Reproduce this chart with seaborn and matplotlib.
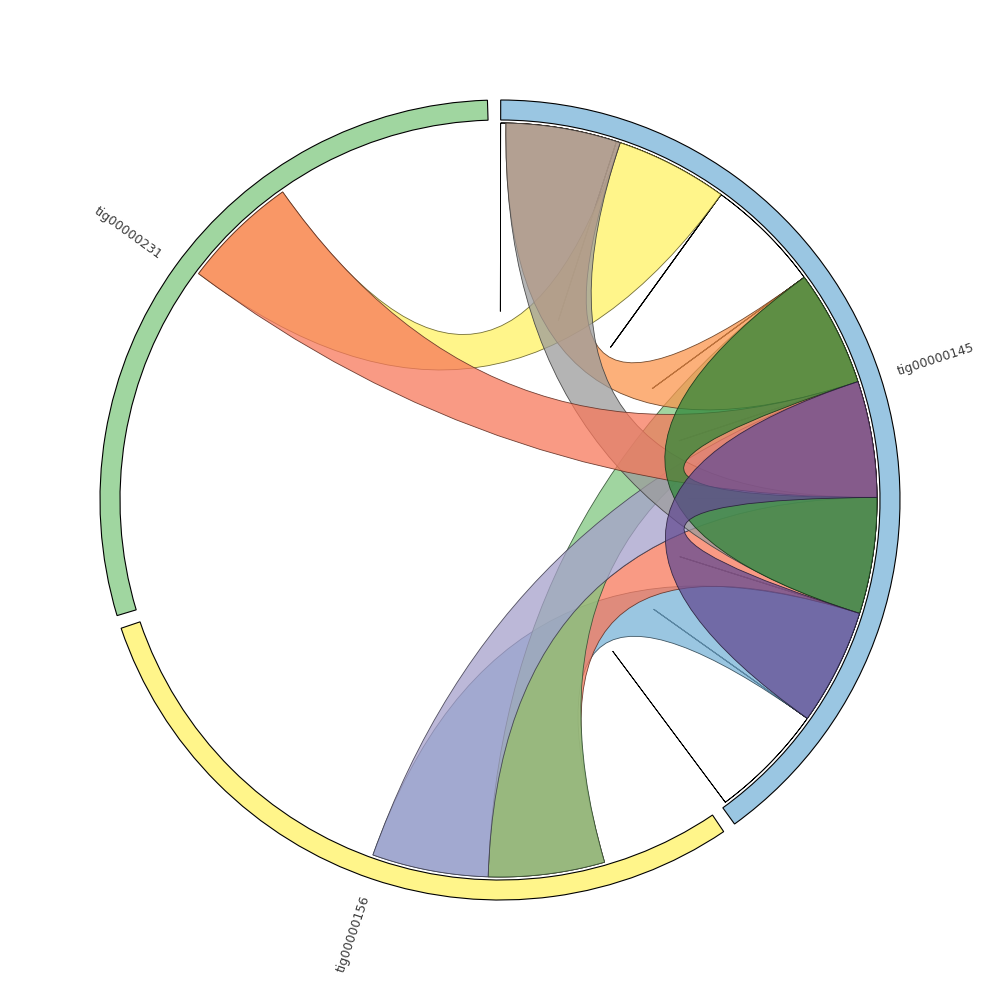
import numpy as np
import matplotlib
matplotlib.use("Agg")
import matplotlib.pyplot as plt
from matplotlib.path import Path
from matplotlib.patches import PathPatch, Wedge
from matplotlib.colors import to_rgb
import seaborn as sns

sns.set_theme(style="white")
plt.rcParams["font.family"] = ["DejaVu Sans"]

# contigs (kb) and ideogram colours
contigs = ["tig00000145", "tig00000156", "tig00000231"]
lengths_kb = [1440, 1053, 1050]
contig_colors = ["#9ac6e2", "#fff58a", "#a0d6a0"]

# alignment links: contig / start / end on each side (kb), in drawing order
link_a = ["tig00000145"] * 10
link_a_start = [1074, 895, 537, 716, 185, 8, 8, 716, 537, 716]
link_a_end = [1253, 1074, 716, 895, 358, 185, 185, 895, 716, 895]
link_b = ["tig00000156", "tig00000156", "tig00000156", "tig00000156",
          "tig00000231", "tig00000145", "tig00000145", "tig00000231",
          "tig00000145", "tig00000145"]
link_b_start = [179, 179, 179, 358, 537, 537, 895, 537, 895, 1074]
link_b_end = [537, 358, 358, 537, 716, 716, 1074, 716, 1074, 1253]
link_colors = ["#78b3d8", "#f7785b", "#80c880", "#a6a0cb", "#fff263",
               "#fb964e", "#9b9b9b", "#f7785b", "#31873a", "#644c92"]

# self alignments of the repeat units on tig00000145
self_start = [0, 179, 358, 537, 716, 895, 1074, 1253]
self_end = [179, 358, 537, 716, 895, 1074, 1253, 1432]

gap = 1.9
start_angle = 0.1
R_OUT, R_IN, R_LINK = 400, 380, 377

deg_per_kb = (360 - gap * len(contigs)) / sum(lengths_kb)
offsets = {}
a = start_angle
for name, ln in zip(contigs, lengths_kb):
    offsets[name] = a
    a += ln * deg_per_kb + gap


def ang(contig, pos):
    return offsets[contig] + pos * deg_per_kb


def xy(theta, r=R_LINK):
    t = np.deg2rad(theta)
    return np.array([r * np.sin(t), r * np.cos(t)])


def arc(t1, t2, n=60):
    return [xy(t) for t in np.linspace(t1, t2, n)]


def ribbon(a1, a2, b1, b2):
    verts, codes = [], []
    pts = arc(a1, a2)
    verts += pts
    codes += [Path.MOVETO] + [Path.LINETO] * (len(pts) - 1)
    verts += [np.zeros(2), xy(b1)]
    codes += [Path.CURVE3, Path.CURVE3]
    pts = arc(b1, b2)[1:]
    verts += pts
    codes += [Path.LINETO] * len(pts)
    verts += [np.zeros(2), xy(a1)]
    codes += [Path.CURVE3, Path.CURVE3]
    return Path(np.array(verts), codes)


fig = plt.figure(figsize=(10, 10), dpi=100)
ax = fig.add_axes([0, 0, 1, 1])
ax.set_xlim(-500, 500)
ax.set_ylim(-500, 500)
ax.set_aspect("equal")
ax.axis("off")

# ideogram
for name, ln, col in zip(contigs, lengths_kb, contig_colors):
    t1, t2 = ang(name, 0), ang(name, ln)
    ax.add_patch(Wedge((0, 0), R_OUT, 90 - t2, 90 - t1, width=R_OUT - R_IN,
                       facecolor=col, edgecolor="black", lw=0.8))
    mid = (t1 + t2) / 2
    rot = 90 - mid
    while rot < -90:
        rot += 180
    while rot > 90:
        rot -= 180
    px, py = xy(mid, 458)
    ax.text(px, py, name, rotation=rot, ha="center", va="center",
            fontsize=9, color="#3a3a3a")

# self links (zero-area chords)
for s, e in zip(self_start, self_end):
    t1, t2 = ang("tig00000145", s), ang("tig00000145", e)
    ax.add_patch(PathPatch(ribbon(t1, t2, t2, t1), facecolor="none",
                           edgecolor="black", lw=0.6))

# links
for i in range(len(link_a)):
    a1, a2 = ang(link_a[i], link_a_start[i]), ang(link_a[i], link_a_end[i])
    b1, b2 = ang(link_b[i], link_b_start[i]), ang(link_b[i], link_b_end[i])
    fc = to_rgb(link_colors[i])
    ec = tuple(c * 0.4 for c in fc)
    ax.add_patch(PathPatch(ribbon(a1, a2, b1, b2), facecolor=fc + (0.75,),
                           edgecolor=ec + (0.9,), lw=0.6))

fig.savefig("out.png", dpi=100, facecolor="white")
